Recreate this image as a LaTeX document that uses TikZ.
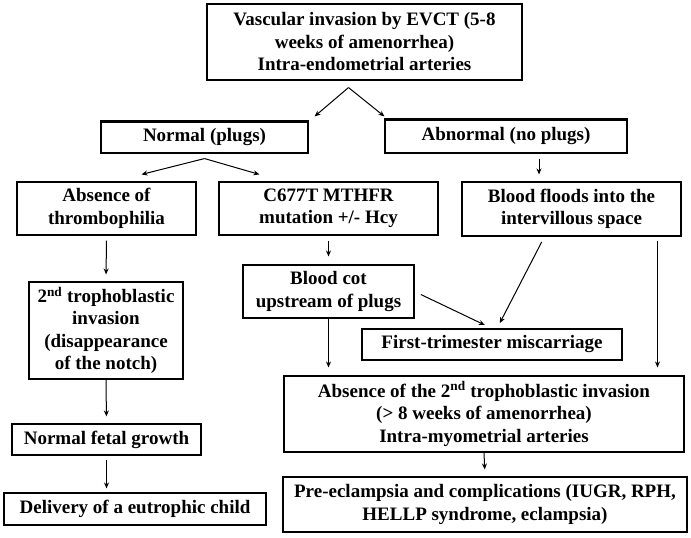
\documentclass[tikz,border=0pt]{standalone}
\usepackage{fontspec}
\setmainfont{Liberation Serif}
\usetikzlibrary{arrows.meta}

\begin{document}
\begin{tikzpicture}[x=1pt,y=-1pt,
	box/.style={draw,line width=1.1pt,align=center,inner sep=0pt,font=\bfseries\fontsize{19}{22.5}\selectfont},
	arr/.style={-{Stealth[length=6pt,width=5pt]},line width=1pt}]
\useasboundingbox (0,0) rectangle (691,538);
\node [box,minimum width=315pt,minimum height=76pt] (a) at (364.5,42) {Vascular invasion by EVCT (5-8\\weeks of amenorrhea)\\Intra-endometrial arteries};
\node [box,minimum width=207pt,minimum height=31pt] (b) at (204.5,137.5) {Normal (plugs)};
\node [box,minimum width=242pt,minimum height=33pt] (c) at (506,136.5) {Abnormal (no plugs)};
\node [box,minimum width=179pt,minimum height=53pt] (d) at (106.5,208.5) {Absence of\\thrombophilia};
\node [box,minimum width=219pt,minimum height=53pt] (e) at (328.5,208.5) {C677T MTHFR\\mutation +/- Hcy};
\node [box,minimum width=219pt,minimum height=54pt] (f) at (571.5,209) {Blood floods into the\\intervillous space};
\node [box,minimum width=154pt,minimum height=97pt] (g) at (106,330.5) {2\textsuperscript{nd} trophoblastic\\invasion\\(disappearance\\of the notch)};
\node [box,minimum width=171pt,minimum height=53pt] (h) at (328.5,291.5) {Blood cot\\upstream of plugs};
\node [box,minimum width=260pt,minimum height=31pt] (i) at (492,344.5) {First-trimester miscarriage};
\node [box,minimum width=400pt,minimum height=76pt] (j) at (484,414) {Absence of the 2\textsuperscript{nd} trophoblastic invasion\\(> 8 weeks of amenorrhea)\\Intra-myometrial arteries};
\node [box,minimum width=189pt,minimum height=31pt] (k) at (106.5,439.5) {Normal fetal growth};
\node [box,minimum width=262pt,minimum height=32pt] (l) at (135,509) {Delivery of a eutrophic child};
\node [box,minimum width=404pt,minimum height=55pt] (m) at (485,504.5) {Pre-eclampsia and complications (IUGR, RPH,\\HELLP syndrome, eclampsia)};

\draw [line width=2.4pt] (b.north west) -- (b.north east);
\draw [line width=2.4pt] (c.north west) -- (c.north east);

\coordinate (a1) at ([xshift=-16pt,yshift=-7pt]a.south);
\coordinate (b1) at ([yshift=-5pt]b.south);
\draw [arr] (a1) -- ([xshift=6pt,yshift=5pt]b.north east);
\draw [arr] (a1) -- ([yshift=3pt]c.north west);
\draw [arr] (b1) -- ([xshift=35pt,yshift=7pt]d.north);
\draw [arr] (b1) -- ([xshift=41pt,yshift=7pt]e.north west);
\draw [arr,shorten <=5pt,shorten >=7pt] ([xshift=33pt]c.south) -- ([xshift=33pt]c.south |- f.north);
\draw [arr,shorten <=5pt,shorten >=7pt] (d.south) -- (g.north);
\draw [arr,shorten >=7pt] (g.south) -- (k.north);
\draw [arr,shorten <=4pt,shorten >=4pt] (k.south) -- (k.south |- l.north);
\draw [arr,shorten <=5pt,shorten >=8pt] (e.south) -- (h.north);
\draw [arr,shorten <=7pt,shorten >=8pt] (h.east) -- (i.north);
\draw [arr,shorten <=6pt,shorten >=6pt] ([xshift=-27pt]f.south) -- ([xshift=5pt]i.north);
\draw [arr,shorten >=8pt] (h.south) -- (h.south |- j.north);
\draw [arr,shorten <=4pt,shorten >=8pt] ([xshift=86pt]f.south) -- ([xshift=86pt]f.south |- j.north);
\draw [arr,shorten >=7pt] (j.south) -- (m.north);
\end{tikzpicture}
\end{document}
